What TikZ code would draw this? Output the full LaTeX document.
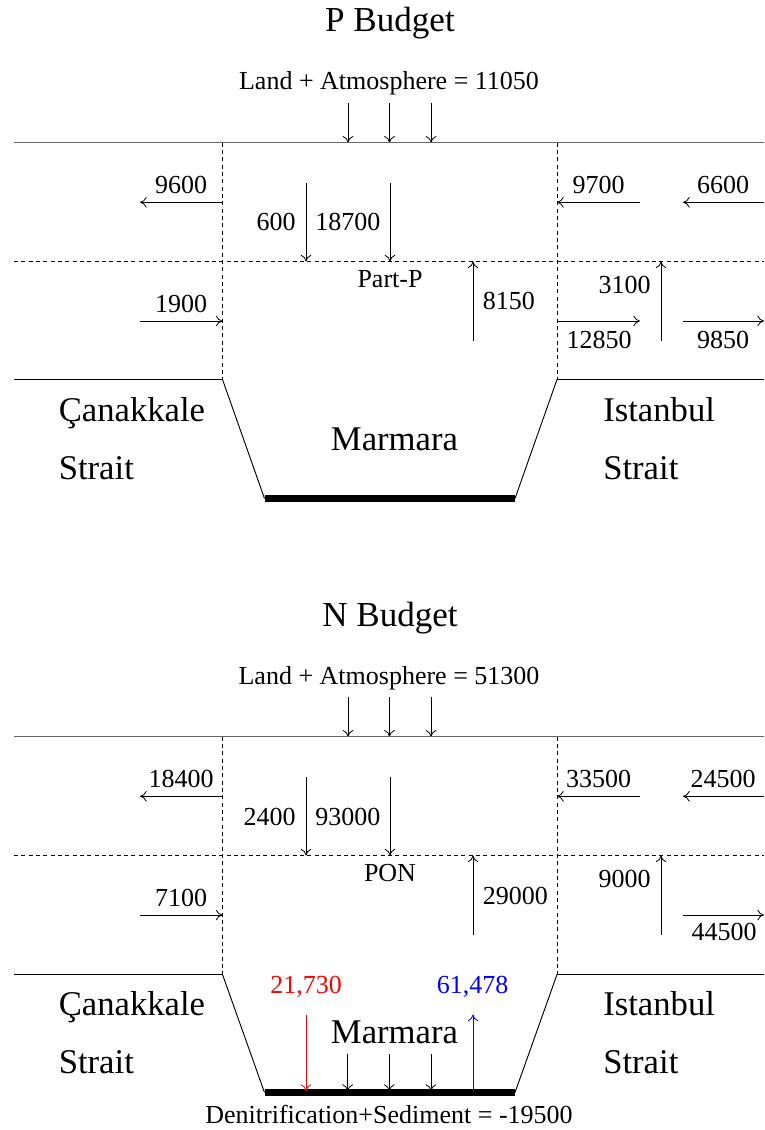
\documentclass[tikz,border=0pt]{standalone}
\usepackage{fontspec}
\setmainfont{Liberation Serif}
\usetikzlibrary{arrows.meta}
\begin{document}
\begin{tikzpicture}[x=0.75pt,y=-0.75pt,
  lbl/.style={font=\fontsize{19.5}{23}\selectfont, inner sep=0pt, anchor=base},
  big/.style={font=\fontsize{26}{31}\selectfont, inner sep=0pt, anchor=base west},
  ttl/.style={font=\fontsize{26.3}{31}\selectfont, inner sep=0pt, anchor=base},
  flow/.style={-{To[length=5pt,width=8pt]}, line width=0.6pt},
  surface/.style={line width=0.9pt, draw=black!60},
  wall/.style={line width=0.7pt},
  dsh/.style={line width=0.5pt, dash pattern=on 3pt off 2.5pt},
  bar/.style={line width=5.6pt},
]
\useasboundingbox (0,0) rectangle (764,1130);

% ================= P Budget =================
\begin{scope}
\node[ttl] (P-title) at (390,32) {P Budget};
\node[lbl] (P-land) at (389,90) {Land + Atmosphere = 11050};
\foreach \i/\x in {1/348,2/389.5,3/431}{
  \coordinate (P-a\i-s) at (\x,103);
  \coordinate (P-a\i-e) at (\x,142.7);
  \draw[flow] (P-a\i-s) -- (P-a\i-e);
}
% frame
\coordinate (P-TL) at (14,142.7);  \coordinate (P-TR) at (764,142.7);
\coordinate (P-DL1) at (222.5,142.7); \coordinate (P-DL2) at (222.5,379.5);
\coordinate (P-DR1) at (557,142.7);   \coordinate (P-DR2) at (557,379.5);
\coordinate (P-HL) at (14,261.5);  \coordinate (P-HR) at (764,261.5);
\coordinate (P-BL) at (14,379.5);  \coordinate (P-BR) at (764,379.5);
\coordinate (P-FL) at (264.5,498.5); \coordinate (P-FR) at (515,498.5);
\draw[surface] (P-TL) -- (P-TR);
\draw[dsh] (P-DL1) -- (P-DL2);
\draw[dsh] (P-DR1) -- (P-DR2);
\draw[dsh] (P-HL) -- (P-HR);
\draw[wall] (P-BL) -- (P-DL2) -- (P-FL);
\draw[wall] (P-BR) -- (P-DR2) -- (P-FR);
\draw[bar] (P-FL) -- (P-FR);
% flows upper layer
\coordinate (P-f1s) at (222.5,202.3); \coordinate (P-f1e) at (140,202.3);
\draw[flow] (P-f1s) -- (P-f1e);
\node[lbl] (P-l1) at (181,193.3) {9600};
\coordinate (P-f2s) at (306,183); \coordinate (P-f2e) at (306,261.5);
\draw[flow] (P-f2s) -- (P-f2e);
\node[lbl, anchor=base east] (P-l2) at (296,231) {600};
\coordinate (P-f3s) at (390,183); \coordinate (P-f3e) at (390,261.5);
\draw[flow] (P-f3s) -- (P-f3e);
\node[lbl, anchor=base west] (P-l3) at (315,231) {18700};
\coordinate (P-f4s) at (640,202.3); \coordinate (P-f4e) at (557,202.3);
\draw[flow] (P-f4s) -- (P-f4e);
\node[lbl] (P-l4) at (598.5,193.3) {9700};
\coordinate (P-f5s) at (764,202.3); \coordinate (P-f5e) at (683,202.3);
\draw[flow] (P-f5s) -- (P-f5e);
\node[lbl] (P-l5) at (723,193.3) {6600};
% lower layer
\node[lbl] (P-part) at (390,287) {Part-P};
\coordinate (P-f6s) at (140,321); \coordinate (P-f6e) at (222.5,321);
\draw[flow] (P-f6s) -- (P-f6e);
\node[lbl] (P-l6) at (181,312.7) {1900};
\coordinate (P-f7s) at (473,341); \coordinate (P-f7e) at (473,261.5);
\draw[flow] (P-f7s) -- (P-f7e);
\node[lbl, anchor=base west] (P-l7) at (482.5,309.5) {8150};
\coordinate (P-f8s) at (661,340.5); \coordinate (P-f8e) at (661,261.5);
\draw[flow] (P-f8s) -- (P-f8e);
\node[lbl, anchor=base east] (P-l8) at (651,294) {3100};
\coordinate (P-f9s) at (557,321); \coordinate (P-f9e) at (640,321);
\draw[flow] (P-f9s) -- (P-f9e);
\node[lbl] (P-l9) at (599,348.5) {12850};
\coordinate (P-f10s) at (683,321); \coordinate (P-f10e) at (764,321);
\draw[flow] (P-f10s) -- (P-f10e);
\node[lbl] (P-l10) at (723,348.5) {9850};
% names
\node[big] (P-can) at (58.5,421.5) {Çanakkale};
\node[big] (P-cs) at (58.5,479) {Strait};
\node[big] (P-ist) at (603,421.5) {Istanbul};
\node[big] (P-is) at (603,479) {Strait};
\node[big, anchor=base] (P-mar) at (394.5,450.5) {Marmara};
\end{scope}

% ================= N Budget =================
\begin{scope}[shift={(0,594)}]
\node[ttl] (N-title) at (390,32) {N Budget};
\node[lbl] (N-land) at (389,90) {Land + Atmosphere = 51300};
\foreach \i/\x in {1/348,2/389.5,3/431}{
  \coordinate (N-a\i-s) at (\x,103);
  \coordinate (N-a\i-e) at (\x,142.7);
  \draw[flow] (N-a\i-s) -- (N-a\i-e);
}
\coordinate (N-TL) at (14,142.7);  \coordinate (N-TR) at (764,142.7);
\coordinate (N-DL1) at (222.5,142.7); \coordinate (N-DL2) at (222.5,380.5);
\coordinate (N-DR1) at (557,142.7);   \coordinate (N-DR2) at (557,380.5);
\coordinate (N-HL) at (14,261.5);  \coordinate (N-HR) at (764,261.5);
\coordinate (N-BL) at (14,380.5);  \coordinate (N-BR) at (764,380.5);
\coordinate (N-FL) at (264.5,498.5); \coordinate (N-FR) at (515,498.5);
\draw[surface] (N-TL) -- (N-TR);
\draw[dsh] (N-DL1) -- (N-DL2);
\draw[dsh] (N-DR1) -- (N-DR2);
\draw[dsh] (N-HL) -- (N-HR);
\draw[wall] (N-BL) -- (N-DL2) -- (N-FL);
\draw[wall] (N-BR) -- (N-DR2) -- (N-FR);
\draw[bar] (N-FL) -- (N-FR);
% upper layer
\coordinate (N-f1s) at (222.5,202.3); \coordinate (N-f1e) at (140,202.3);
\draw[flow] (N-f1s) -- (N-f1e);
\node[lbl] (N-l1) at (181,193.3) {18400};
\coordinate (N-f2s) at (306,183); \coordinate (N-f2e) at (306,261.5);
\draw[flow] (N-f2s) -- (N-f2e);
\node[lbl, anchor=base east] (N-l2) at (296,231) {2400};
\coordinate (N-f3s) at (390,183); \coordinate (N-f3e) at (390,261.5);
\draw[flow] (N-f3s) -- (N-f3e);
\node[lbl, anchor=base west] (N-l3) at (315,231) {93000};
\coordinate (N-f4s) at (640,202.3); \coordinate (N-f4e) at (557,202.3);
\draw[flow] (N-f4s) -- (N-f4e);
\node[lbl] (N-l4) at (598.5,193.3) {33500};
\coordinate (N-f5s) at (764,202.3); \coordinate (N-f5e) at (683,202.3);
\draw[flow] (N-f5s) -- (N-f5e);
\node[lbl] (N-l5) at (723,193.3) {24500};
% lower layer
\node[lbl] (N-pon) at (390,287.5) {PON};
\coordinate (N-f6s) at (140,321); \coordinate (N-f6e) at (222.5,321);
\draw[flow] (N-f6s) -- (N-f6e);
\node[lbl] (N-l6) at (181,312.7) {7100};
\coordinate (N-f7s) at (473,341); \coordinate (N-f7e) at (473,261.5);
\draw[flow] (N-f7s) -- (N-f7e);
\node[lbl, anchor=base west] (N-l7) at (482.5,310) {29000};
\coordinate (N-f8s) at (661,340.5); \coordinate (N-f8e) at (661,261.5);
\draw[flow] (N-f8s) -- (N-f8e);
\node[lbl, anchor=base east] (N-l8) at (651,293.5) {9000};
\coordinate (N-f10s) at (683,321); \coordinate (N-f10e) at (764,321);
\draw[flow] (N-f10s) -- (N-f10e);
\node[lbl] (N-l10) at (724,346.5) {44500};
% sediment exchanges
\coordinate (N-rs) at (306,420.5); \coordinate (N-re) at (306,497);
\draw[flow, red] (N-rs) -- (N-re);
\node[lbl, text=red] (N-lr) at (306,399.3) {21,730};
\coordinate (N-bs) at (473,497); \coordinate (N-be) at (473,420.5);
\draw[flow, blue] (N-bs) -- (N-be);
\node[lbl, text=blue] (N-lb) at (472.5,399.3) {61,478};
\foreach \i/\x in {1/347.7,2/389.3,3/431}{
  \coordinate (N-s\i-s) at (\x,460.3);
  \coordinate (N-s\i-e) at (\x,497);
  \draw[flow] (N-s\i-s) -- (N-s\i-e);
}
\node[lbl] (N-den) at (389,529.3) {Denitrification+Sediment = -19500};
% names
\node[big] (N-can) at (58.5,421.5) {Çanakkale};
\node[big] (N-cs) at (58.5,479) {Strait};
\node[big] (N-ist) at (603,421.5) {Istanbul};
\node[big] (N-is) at (603,479) {Strait};
\node[big, anchor=base] (N-mar) at (394.5,449.5) {Marmara};
\end{scope}
\end{tikzpicture}
\end{document}
